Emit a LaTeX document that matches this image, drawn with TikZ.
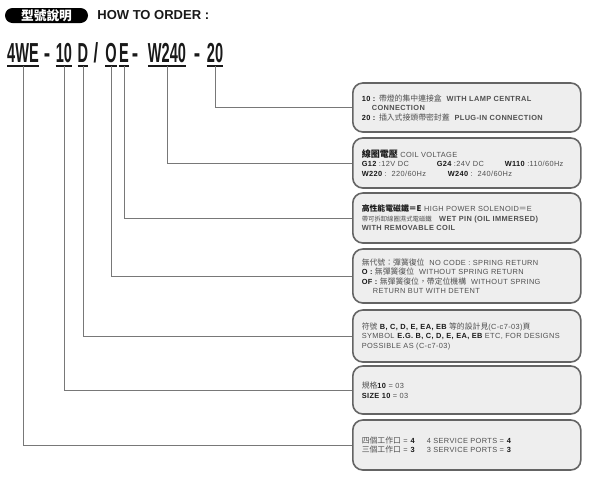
\documentclass[tikz,border=0pt]{standalone}
\usepackage{fontspec}
\setmainfont{Liberation Sans}
\newfontfamily\boxfont{Liberation Sans}[LetterSpace=5]
\newfontfamily\codefont{Liberation Sans}
\newfontfamily\cj{Noto Sans CJK TC}[Scale=1.06]
\usepackage{xcolor}
\usepackage{tikz}
\usetikzlibrary{calc, positioning}
\definecolor{boxfill}{RGB}{238, 238, 238}
\definecolor{boxedge}{RGB}{100, 100, 100}
\definecolor{txtgray}{RGB}{80, 80, 80}
\definecolor{inkdark}{RGB}{25, 25, 25}
\definecolor{linegray}{RGB}{120, 120, 120}
\newcommand{\zh}[1]{{\cj #1}}
\newcommand{\bk}[1]{\textbf{\color{inkdark}#1}}

\begin{document}
\begin{tikzpicture}[x=1pt, y=-1pt,
  code/.style={anchor=base, inner sep=0pt, text=inkdark,
    font=\codefont\bfseries\fontsize{27.5}{27.5}\selectfont},
  uline/.style={line width=1.4pt, inkdark},
  conn/.style={line width=0.8pt, linegray},
  infobox/.style={anchor=west, draw=boxedge, fill=boxfill, line width=1.6pt,
    rounded corners=10pt, minimum width=228pt, text width=210pt,
    inner xsep=9pt, inner ysep=0pt, align=left, text=txtgray,
    font=\boxfont\fontsize{7.4}{9.5}\selectfont}]
  \useasboundingbox (0,0) rectangle (589,480);

  % ── Title ─────────────────────────────────────────────────────────────────
  \node[fill=black, rounded corners=7.5pt, minimum width=83pt,
    minimum height=15pt, inner sep=0pt, text=white,
    font=\cj\bfseries\fontsize{12}{12}\selectfont] (tag) at (46.5, 15.5) {型號說明};
  \node[right=9pt of tag, inner sep=0pt, text=inkdark,
    font=\bfseries\fontsize{13}{13}\selectfont] (howto) {HOW TO ORDER :};

  % ── Order code, underlined parts ─────────────────────────────────────────
  \foreach \nm/\xx/\txt in {p4we/23/4WE, p10/64/10, pD/83/D, pO/111/O,
                            pE/124/E, pW/167/W240, p20/215/20} {
    \node[code] (\nm) at (\xx, 62) {\scalebox{0.53}[1]{\txt}};
    \draw[uline] ([yshift=-4pt]\nm.base west) -- ([yshift=-4pt]\nm.base east);
  }
  % separators
  \foreach \nm/\xx in {sa/47, sc/135, sd/197} {
    \node[code] (\nm) at (\xx, 62) {\scalebox{0.7}[1]{-}};
  }
  \node[code] (sb) at (96, 62) {\scalebox{0.6}[1]{/}};

  % ── Explanation boxes ────────────────────────────────────────────────────
  \node[infobox, minimum height=49pt] (b1) at (352, 107.5) {%
    \bk{10 :} \zh{帶燈的集中連接盒}\ \ \textbf{WITH LAMP CENTRAL}\\
    \hspace*{10pt}\textbf{CONNECTION}\\
    \bk{20 :} \zh{插入式接頭帶密封蓋}\ \ \textbf{PLUG-IN CONNECTION}};

  \node[infobox, minimum height=50pt] (b2) at (352, 163) {%
    \bk{\zh{\fontsize{8.5}{9.5}\selectfont 線圈電壓}} COIL VOLTAGE\\
    \makebox[75pt][l]{\bk{G12} :12V DC}\makebox[68pt][l]{\bk{G24} :24V DC}\bk{W110} :110/60Hz\\
    \makebox[86pt][l]{\bk{W220} :\ \ 220/60Hz}\bk{W240} :\ \ 240/60Hz};

  \node[infobox, minimum height=50pt] (b3) at (352, 218) {%
    \bk{\zh{高性能電磁鐵＝E}}\ HIGH POWER SOLENOID\zh{＝}E\\
    \zh{\fontsize{6}{9.5}\selectfont 帶可拆卸線圈濕式電磁鐵}\quad\textbf{WET PIN (OIL IMMERSED)}\\
    \textbf{WITH REMOVABLE COIL}};

  \node[infobox, minimum height=54pt] (b4) at (352, 276) {%
    \zh{無代號：彈簧復位}\ \ NO CODE : SPRING RETURN\\
    \bk{O :} \zh{無彈簧復位}\ \ WITHOUT SPRING RETURN\\
    \bk{OF :} \zh{無彈簧復位，帶定位機構}\ \ WITHOUT SPRING\\
    \hspace*{11pt}RETURN BUT WITH DETENT};

  \node[infobox, minimum height=52pt] (b5) at (352, 336) {%
    \zh{符號} \bk{B, C, D, E, EA, EB} \zh{等的設計見}(C-c7-03)\zh{頁}\\
    SYMBOL \bk{E.G. B, C, D, E, EA, EB} ETC, FOR DESIGNS\\
    POSSIBLE AS (C-c7-03)};

  \node[infobox, minimum height=48pt] (b6) at (352, 390) {%
    \zh{規格}\bk{10} = 03\\
    \bk{SIZE 10} = 03};

  \node[infobox, minimum height=50pt] (b7) at (352, 445) {%
    \makebox[65pt][l]{\zh{四個工作口} = \bk{4}}4 SERVICE PORTS = \bk{4}\\
    \makebox[65pt][l]{\zh{三個工作口} = \bk{3}}3 SERVICE PORTS = \bk{3}};

  % ── Leader lines ─────────────────────────────────────────────────────────
  \foreach \src/\dst in {p20/b1, pW/b2, pE/b3, pO/b4, pD/b5, p10/b6, p4we/b7} {
    \draw[conn] ([yshift=-4pt]\src.base) |- (\dst.west);
  }
\end{tikzpicture}
\end{document}
